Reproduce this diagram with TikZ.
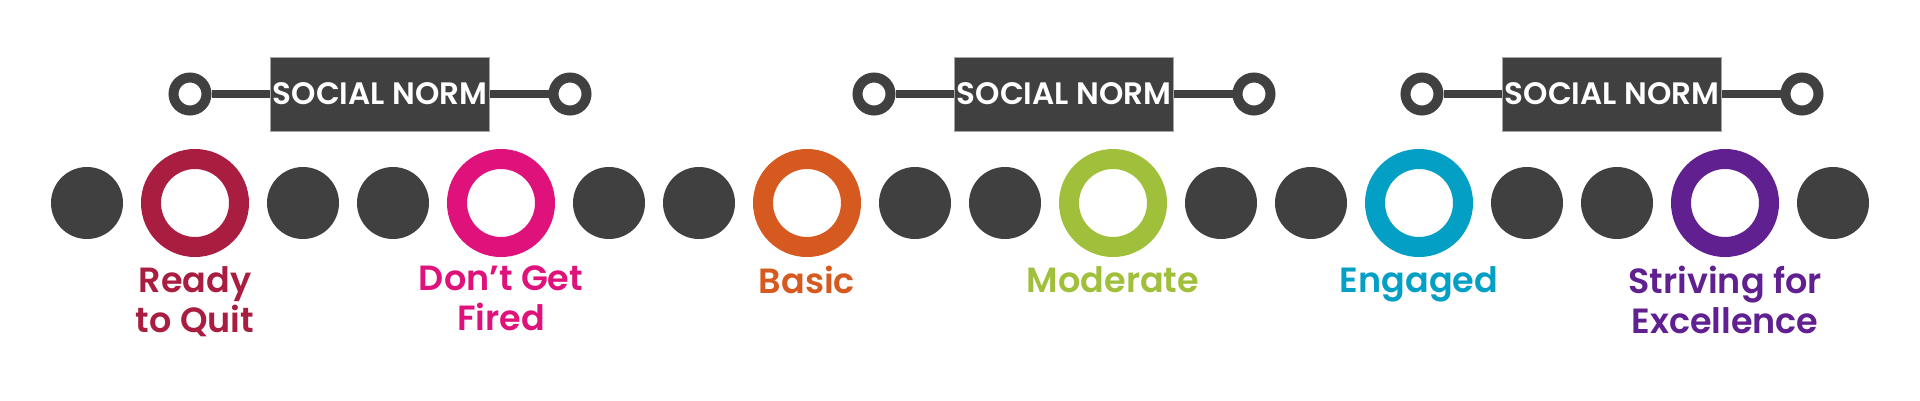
\documentclass[tikz,border=0pt]{standalone}
\usepackage{fontspec}
\setmainfont{Poppins}[BoldFont={Poppins SemiBold}]
\usetikzlibrary{positioning}
\definecolor{dotgray}{HTML}{404040}
\definecolor{quit}{HTML}{A91E40}
\definecolor{fired}{HTML}{DF127B}
\definecolor{basic}{HTML}{D65A1F}
\definecolor{moderate}{HTML}{A0BF3A}
\definecolor{engaged}{HTML}{049FC5}
\definecolor{striving}{HTML}{602090}

\begin{document}
\begin{tikzpicture}
   [x=1pt,y=-1pt,
      blob/.style={shape=circle,fill=dotgray,inner sep=0pt,minimum size=72pt},
      stage/.style={shape=circle,line width=20pt,inner sep=0pt,minimum size=88pt},
lbl/.style={font=\bfseries\fontsize{35}{40}\selectfont,align=center,anchor=north,inner sep=0pt},
knob/.style={shape=circle,draw=dotgray,fill=white,line width=10pt,inner sep=0pt,minimum size=33pt},
normbox/.style={fill=dotgray,draw=black!35,line width=1pt,minimum width=219pt,
minimum height=74pt,inner sep=0pt,text=white,font=\bfseries\fontsize{31}{31}\selectfont},
bar/.style={dotgray,line width=8pt}]
%%
\useasboundingbox[fill=white] (0,0) rectangle (1920,400);
%%
\newcommand{\rowy}{203}
\newcommand{\lbly}{266}
\newcommand{\normy}{94}
%%
%% dots
\node (d1) [blob] at (87,\rowy) {};
\node (d2) [blob] at (303,\rowy) {};
\node (d3) [blob] at (393,\rowy) {};
\node (d4) [blob] at (609,\rowy) {};
\node (d5) [blob] at (699,\rowy) {};
\node (d6) [blob] at (915,\rowy) {};
\node (d7) [blob] at (1005,\rowy) {};
\node (d8) [blob] at (1221,\rowy) {};
\node (d9) [blob] at (1311,\rowy) {};
\node (d10) [blob] at (1527,\rowy) {};
\node (d11) [blob] at (1617,\rowy) {};
\node (d12) [blob] at (1833,\rowy) {};
%%
%% stages
\node (r1) [stage,draw=quit] at (195,\rowy) {};
\node (r2) [stage,draw=fired] at (501,\rowy) {};
\node (r3) [stage,draw=basic] at (807,\rowy) {};
\node (r4) [stage,draw=moderate] at (1113,\rowy) {};
\node (r5) [stage,draw=engaged] at (1419,\rowy) {};
\node (r6) [stage,draw=striving] at (1725,\rowy) {};
%%
\node (l1) [lbl,text=quit] at (195,\lbly) {Ready\\to Quit};
\node (l2) [lbl,text=fired] at (501,\lbly) {Don’t Get\\Fired};
\node (l3) [lbl,text=basic] at (807,\lbly) {Basic};
\node (l4) [lbl,text=moderate] at (1113,\lbly) {Moderate};
\node (l5) [lbl,text=engaged] at (1419,\lbly) {Engaged};
\node (l6) [lbl,text=striving] at (1725,\lbly) {Striving for\\Excellence};
%%
%% social norms
\node (n1) [normbox] at (380,\normy) {SOCIAL NORM};
\node (nl1) [knob] at (190,\normy) {};
\node (nr1) [knob] at (570,\normy) {};
\draw[bar] (nl1) -- (n1);
\draw[bar] (n1) -- (nr1);
%%
\node (n2) [normbox] at (1064,\normy) {SOCIAL NORM};
\node (nl2) [knob] at (874,\normy) {};
\node (nr2) [knob] at (1254,\normy) {};
\draw[bar] (nl2) -- (n2);
\draw[bar] (n2) -- (nr2);
%%
\node (n3) [normbox] at (1612,\normy) {SOCIAL NORM};
\node (nl3) [knob] at (1422,\normy) {};
\node (nr3) [knob] at (1802,\normy) {};
\draw[bar] (nl3) -- (n3);
\draw[bar] (n3) -- (nr3);
\end{tikzpicture}
\end{document}
